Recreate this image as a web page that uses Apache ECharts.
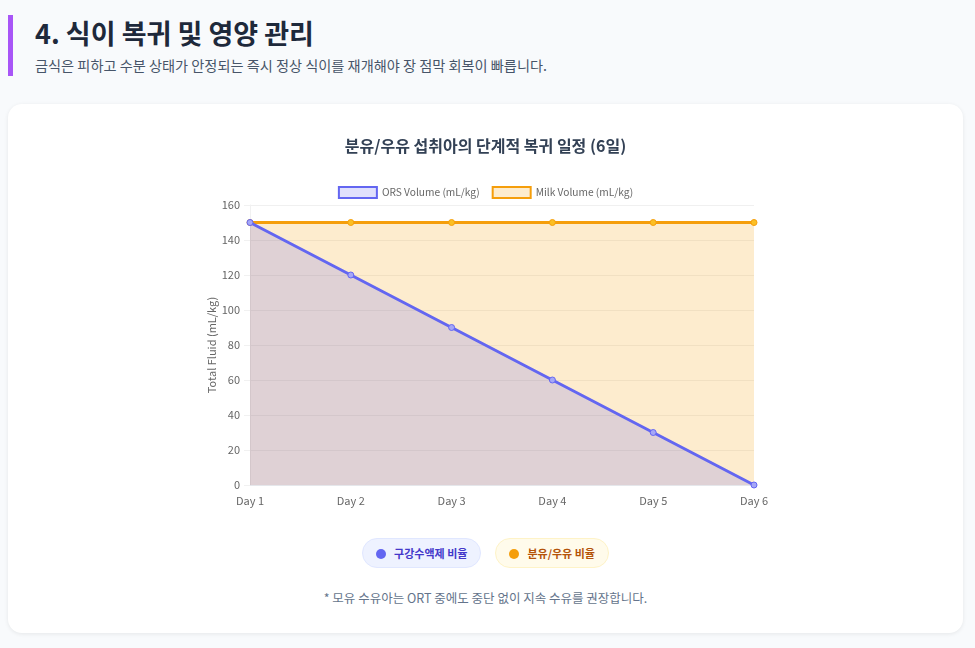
<!DOCTYPE html>
<html>
  <head>
    <meta charset="UTF-8" />
    <title>식이 복귀 및 영양 관리</title>
    <script src="https://cdn.jsdelivr.net/npm/echarts@6.0.0/dist/echarts.min.js"></script>
    <style>
      body {
        margin: 0;
        background: #f8fafc;
        font-family: "Noto Sans CJK KR", "Noto Sans", sans-serif;
        width: 975px;
        height: 648px;
        overflow: hidden;
        position: relative;
      }
      .header {
        position: absolute;
        left: 8px;
        top: 15px;
        height: 61px;
        border-left: 5px solid #a855f7;
        padding-left: 22px;
      }
      .header h2 {
        margin: 0;
        font-size: 27px;
        font-weight: 700;
        color: #1e293b;
        line-height: 36px;
      }
      .header p {
        margin: 4px 0 0 0;
        font-size: 14.2px;
        color: #475569;
      }
      .card {
        position: absolute;
        left: 8px;
        top: 104px;
        width: 955px;
        height: 529px;
        background: #fff;
        border-radius: 14px;
        box-shadow: 0 1px 4px rgba(0, 0, 0, 0.08);
      }
      #fluidChart {
        position: absolute;
        left: 0;
        top: 0;
        width: 955px;
        height: 420px;
      }
      .pills {
        position: absolute;
        top: 434px;
        left: 0;
        width: 955px;
        text-align: center;
        font-size: 0;
      }
      .pill {
        display: inline-block;
        height: 28px;
        line-height: 28px;
        border-radius: 15px;
        padding: 0 13px;
        font-size: 11px;
        font-weight: 700;
        margin: 0 7px;
      }
      .pill .dot {
        display: inline-block;
        width: 10px;
        height: 10px;
        border-radius: 50%;
        margin-right: 8px;
        vertical-align: -1px;
      }
      .pill.ors { background: #eef2ff; border: 1px solid #e0e7ff; color: #4338ca; }
      .pill.ors .dot { background: #6366f1; }
      .pill.milk { background: #fffbeb; border: 1px solid #fef3c7; color: #b45309; }
      .pill.milk .dot { background: #f59e0b; }
      .note {
        position: absolute;
        top: 484px;
        left: 0;
        width: 955px;
        text-align: center;
        font-size: 12.5px;
        color: #64748b;
      }
    </style>
  </head>
  <body>
    <div class="header">
      <h2>4. 식이 복귀 및 영양 관리</h2>
      <p>금식은 피하고 수분 상태가 안정되는 즉시 정상 식이를 재개해야 장 점막 회복이 빠릅니다.</p>
    </div>
    <div class="card">
      <div id="fluidChart"></div>
      <div class="pills">
        <span class="pill ors"><span class="dot"></span>구강수액제 비율</span>
        <span class="pill milk"><span class="dot"></span>분유/우유 비율</span>
      </div>
      <div class="note">* 모유 수유아는 ORT 중에도 중단 없이 지속 수유를 권장합니다.</div>
    </div>
    <script>
      const days = ['Day 1', 'Day 2', 'Day 3', 'Day 4', 'Day 5', 'Day 6'];
      const orsVolume = [150, 120, 90, 60, 30, 0];
      const milkVolume = [150, 150, 150, 150, 150, 150];

      let myChart = echarts.init(document.getElementById('fluidChart'));
      const font = '"Noto Sans CJK KR", "Noto Sans", sans-serif';

      myChart.setOption({
        animation: false,
        textStyle: { fontFamily: font },
        title: {
          text: '분유/우유 섭취아의 단계적 복귀 일정 (6일)',
          left: 'center',
          top: 29,
          textStyle: { fontSize: 16, fontWeight: 'bold', color: '#334155', fontFamily: font }
        },
        legend: {
          top: 77,
          left: 'center',
          itemWidth: 38,
          itemHeight: 11,
          itemGap: 12,
          textStyle: { fontSize: 10.2, color: '#666', fontFamily: font },
          data: [
            { name: 'ORS Volume (mL/kg)', icon: 'rect', itemStyle: { color: 'rgba(99,102,241,0.2)', borderColor: '#6366f1', borderWidth: 2 } },
            { name: 'Milk Volume (mL/kg)', icon: 'rect', itemStyle: { color: 'rgba(245,158,11,0.2)', borderColor: '#f59e0b', borderWidth: 2 } }
          ]
        },
        grid: { left: 242, right: 209, top: 101, height: 280 },
        xAxis: {
          type: 'category',
          data: days,
          boundaryGap: false,
          axisLine: { lineStyle: { color: '#e5e7eb' } },
          axisTick: { show: false },
          axisLabel: { color: '#666', fontSize: 11, margin: 10 },
          splitLine: { show: false }
        },
        yAxis: {
          type: 'value',
          min: 0,
          max: 160,
          interval: 20,
          name: 'Total Fluid (mL/kg)',
          nameLocation: 'middle',
          nameGap: 33,
          nameMoveOverlap: false,
          nameTextStyle: { color: '#666', fontSize: 11 },
          axisLine: { show: true, lineStyle: { color: '#f1f1f1' } },
          axisTick: { show: true, length: 6, lineStyle: { color: '#f1f1f1' } },
          axisLabel: { color: '#666', fontSize: 11, margin: 10 },
          splitLine: { lineStyle: { color: '#f0f0f0' } }
        },
        series: [
          {
            name: 'Milk Volume (mL/kg)',
            type: 'line',
            data: milkVolume,
            z: 2,
            symbol: 'circle',
            symbolSize: 6,
            lineStyle: { color: '#f59e0b', width: 3 },
            itemStyle: { color: '#fbbf24', borderColor: '#f59e0b', borderWidth: 1 },
            areaStyle: { color: 'rgba(245,158,11,0.2)', opacity: 1 }
          },
          {
            name: 'ORS Volume (mL/kg)',
            type: 'line',
            data: orsVolume,
            z: 3,
            symbol: 'circle',
            symbolSize: 6,
            lineStyle: { color: '#6366f1', width: 3 },
            itemStyle: { color: '#a5a7f7', borderColor: '#6366f1', borderWidth: 1 },
            areaStyle: { color: 'rgba(99,102,241,0.2)', opacity: 1 }
          }
        ]
      });
    </script>
  </body>
</html>
